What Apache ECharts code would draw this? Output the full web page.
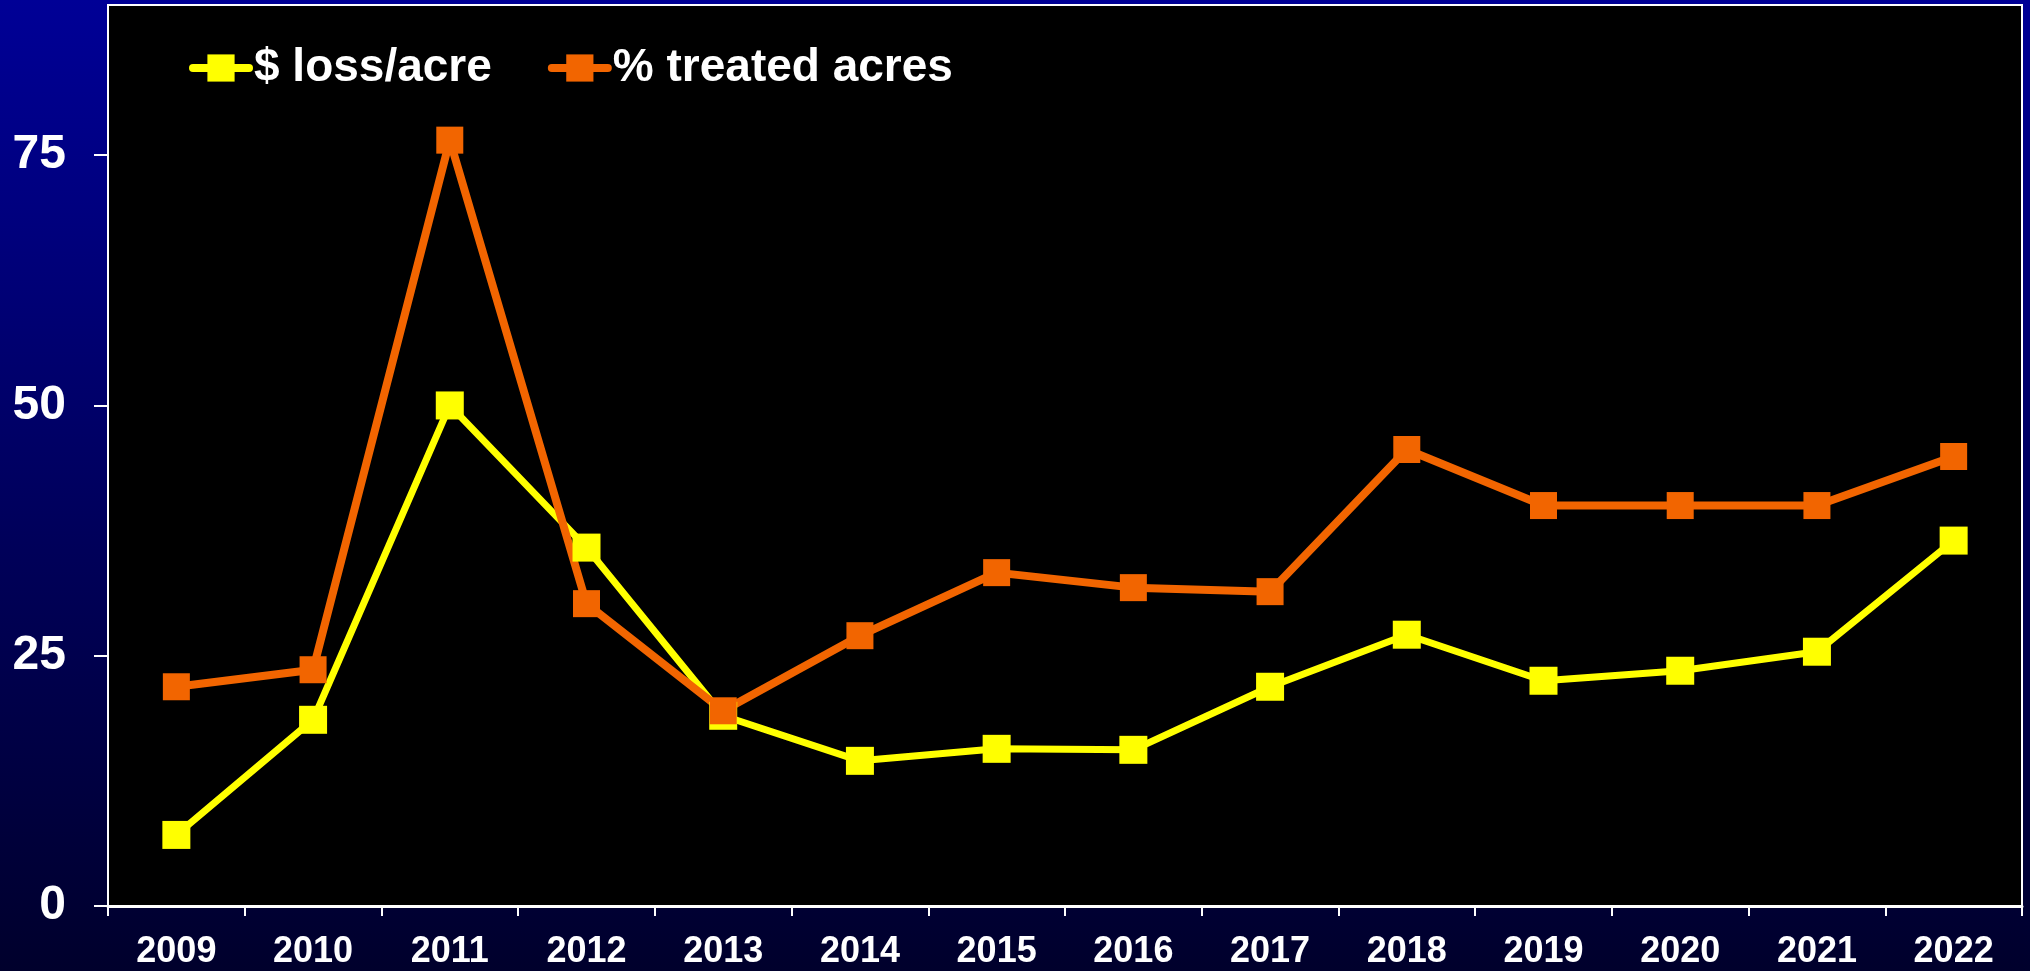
<!DOCTYPE html>
<html>
<head>
<meta charset="utf-8">
<script src="https://cdn.jsdelivr.net/npm/echarts@6/dist/echarts.min.js"></script>
<style>
  html, body { margin: 0; padding: 0; }
  body { background: linear-gradient(to bottom, #000096 0%, #000060 50%, #00002c 100%); }
  #chart { width: 2030px; height: 971px; }
</style>
</head>
<body>
<div id="chart"></div>
<script>
// years on the x axis
var years = ['2009', '2010', '2011', '2012', '2013', '2014', '2015',
             '2016', '2017', '2018', '2019', '2020', '2021', '2022'];
// $ loss per acre
var lossPerAcre = [7.1, 18.6, 50.0, 35.8, 19.0, 14.5, 15.7, 15.6, 21.9, 27.1, 22.5, 23.5, 25.4, 36.5];
// % of acres treated
var treatedAcres = [21.9, 23.6, 76.5, 30.2, 19.5, 27.0, 33.3, 31.8, 31.4, 45.6, 40.0, 40.0, 40.0, 44.9];
// y tick values
var yTicks = [0, 25, 50, 75];

var myChart = echarts.init(document.getElementById('chart'));
var font = '"Liberation Sans", Arial, sans-serif';

var option = {
  backgroundColor: 'transparent',
  animation: false,
  textStyle: { fontFamily: font },
  grid: {
    left: 108, right: 8, top: 5, bottom: 65,
    show: true,
    backgroundColor: '#000',
    borderColor: '#fff',
    borderWidth: 2
  },
  legend: {
    left: 184,
    top: 40,
    itemWidth: 56,
    itemHeight: 34,
    itemGap: 56,
    lineStyle: { width: 8, cap: 'round' },
    textStyle: { color: '#fff', fontSize: 46, fontWeight: 'bold', fontFamily: font },
    data: ['$ loss/acre', '% treated acres']
  },
  xAxis: {
    type: 'category',
    data: years,
    boundaryGap: true,
    axisLine: { lineStyle: { color: '#fff', width: 3 } },
    axisTick: { show: true, length: 10, lineStyle: { color: '#fff', width: 2 } },
    axisLabel: { color: '#fff', fontSize: 36, fontWeight: 'bold', fontFamily: font, margin: 28 },
    splitLine: { show: false }
  },
  yAxis: {
    type: 'value',
    min: 0,
    max: 90,
    interval: 25,
    axisLine: { show: true, lineStyle: { color: '#fff', width: 2 } },
    axisTick: { show: true, length: 14, lineStyle: { color: '#fff', width: 2 }, customValues: yTicks },
    axisLabel: { color: '#fff', fontSize: 48, fontWeight: 'bold', fontFamily: font, margin: 42, customValues: yTicks },
    splitLine: { show: false }
  },
  series: [
    {
      name: '$ loss/acre',
      type: 'line',
      data: lossPerAcre,
      symbol: 'rect',
      symbolSize: 28,
      lineStyle: { color: '#ffff00', width: 7, cap: 'round' },
      itemStyle: { color: '#ffff00' }
    },
    {
      name: '% treated acres',
      type: 'line',
      data: treatedAcres,
      symbol: 'rect',
      symbolSize: 27,
      lineStyle: { color: '#f26500', width: 8, cap: 'round' },
      itemStyle: { color: '#f26500' }
    }
  ]
};

option && myChart.setOption(option);
</script>
</body>
</html>
